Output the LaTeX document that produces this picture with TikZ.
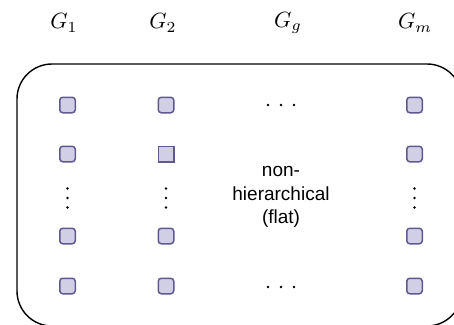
\documentclass[tikz,border=0pt]{standalone}
\usepackage{fontspec}
\newfontfamily\labelfont{Liberation Sans}
\definecolor{cellfill}{HTML}{D0CFE6}
\definecolor{celldraw}{HTML}{5F598F}
\begin{document}
\begin{tikzpicture}[x=1pt,y=-1pt,
  cell/.style={draw=celldraw, fill=cellfill, line width=1.5pt, minimum size=15.5pt,
               inner sep=0pt, rounded corners=3pt},
  sharpcell/.style={cell, sharp corners},
  grouplabel/.style={scale=2.2, inner sep=0pt},
  dotmark/.style={fill=black, circle, inner sep=0pt, minimum size=2.6pt},
  flattext/.style={align=center, inner sep=0pt, font=\labelfont\fontsize{19}{23.5}\selectfont}]
\useasboundingbox (0,0) rectangle (454,324);

% enclosing rounded frame, running past the right and bottom edges
\begin{scope}
  \clip (0,0) rectangle (454,324);
  \draw[line width=1.4pt, rounded corners=35pt] (17,64) rectangle (462,326);
\end{scope}

% group labels
\node[grouplabel] (g1) at (64,23) {$G_1$};
\node[grouplabel] (g2) at (163,23) {$G_2$};
\node[grouplabel] (gg) at (288,23) {$G_g$};
\node[grouplabel] (gm) at (415,23) {$G_m$};

% cells
\foreach \c/\x in {1/67.5, 2/166, m/414.5}{
  \node[cell] (a\c) at (\x,105) {};
  \node[cell] (d\c) at (\x,236) {};
  \node[cell] (e\c) at (\x,286) {};
}
\node[cell] (b1) at (67.5,154) {};
\node[sharpcell] (b2) at (166,154) {};
\node[cell] (bm) at (414.5,154) {};

% vertical dots in the columns
\foreach \c/\x in {1/67.5, 2/166, m/414.5}{
  \node[dotmark] (v\c a) at (\x,188.5) {};
  \node[dotmark] (v\c b) at (\x,198) {};
  \node[dotmark] (v\c c) at (\x,207.5) {};
}

% horizontal dots
\foreach \i/\x in {1/268, 2/281, 3/294}{
  \node[dotmark] (ht\i) at (\x,105) {};
  \node[dotmark] (hb\i) at (\x,287) {};
}

% centre text
\node[flattext] (flat) at (281,197) {non-\\hierarchical\\(flat)};
\end{tikzpicture}
\end{document}
